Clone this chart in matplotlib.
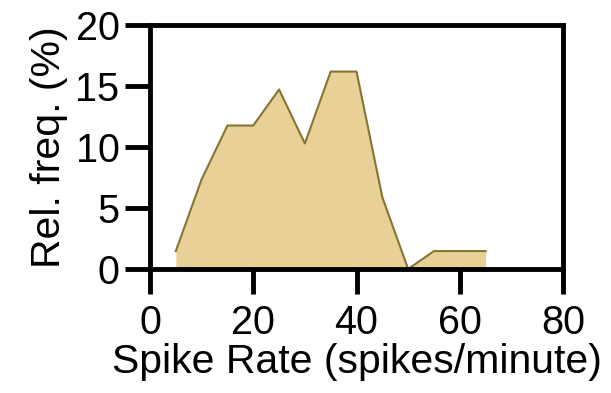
import numpy as np
import matplotlib.pyplot as plt

plt.rcParams['font.family'] = ['Liberation Sans', 'DejaVu Sans']

# spike rate bins (spikes/minute) and relative frequency (%)
rate = [5, 10, 15, 20, 25, 30, 35, 40, 45, 50, 55, 60, 65]
freq = [1.47, 7.35, 11.76, 11.76, 14.71, 10.29, 16.18, 16.18, 5.88, 0.0, 1.47, 1.47, 1.47]

xticks = [0, 20, 40, 60, 80]
yticks = [0, 5, 10, 15, 20]

fig = plt.figure(figsize=(6.11, 3.93), dpi=100)
ax = fig.add_axes([0.2455, 0.3155, 0.676, 0.621])

ax.fill_between(rate, freq, 0, color='#E8D096', linewidth=0)
ax.plot(rate, freq, color='#857434', linewidth=1.5)

ax.set_xlim(0, 80)
ax.set_ylim(0, 20)
ax.set_xticks(xticks)
ax.set_yticks(yticks)

for s in ax.spines.values():
    s.set_linewidth(3.5)
ax.tick_params(axis='both', length=18, width=3.5, labelsize=28.5)
ax.tick_params(axis='x', pad=7)
ax.tick_params(axis='y', pad=4)

ax.set_xlabel('Spike Rate (spikes/minute)', fontsize=29.5, labelpad=1)
ax.set_ylabel('Rel. freq. (%)', fontsize=29.5, labelpad=5)

fig.savefig('out.png', dpi=100)
